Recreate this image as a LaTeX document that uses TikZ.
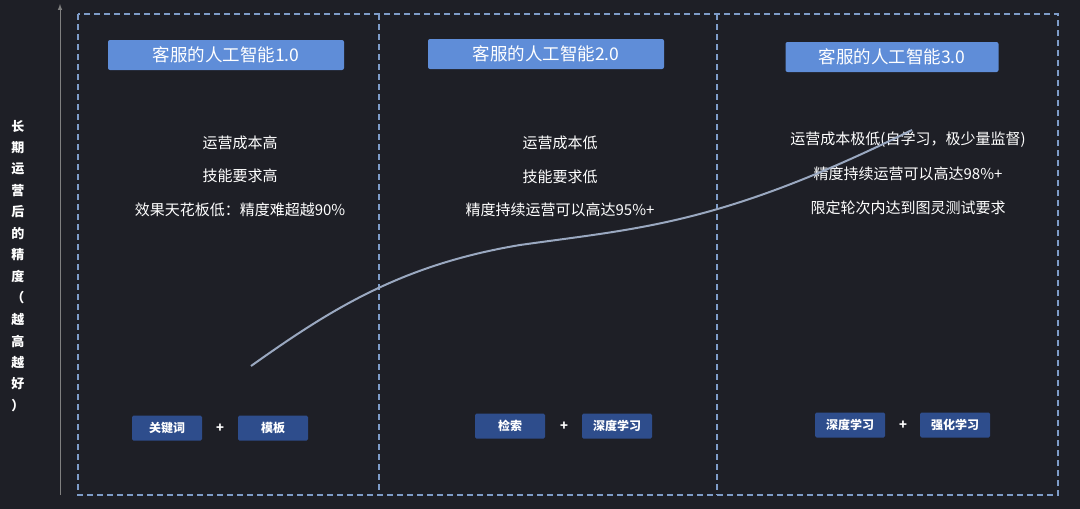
\documentclass[tikz,border=0pt]{standalone}
\usepackage{fontspec}
\setmainfont{Noto Sans CJK SC}
\definecolor{bgdark}{HTML}{1E1F26}
\definecolor{headblue}{HTML}{5F8DD8}
\definecolor{tagblue}{HTML}{2E4D8C}
\definecolor{lineblue}{HTML}{7E9CC8}
\definecolor{curvegray}{HTML}{9AA8C0}
\tikzset{
  headbox/.style={fill=headblue, text=white, rounded corners=2pt, minimum width=236pt, minimum height=30pt, font=\fontsize{17.5}{17.5}\selectfont, inner sep=0pt},
  tagbox/.style={fill=tagblue, text=white, rounded corners=1.5pt, minimum width=70pt, minimum height=25pt, font=\bfseries\fontsize{12}{12}\selectfont, inner sep=0pt},
  bodytext/.style={text=white, font=\fontsize{15}{15}\selectfont},
  plus/.style={text=white, font=\bfseries\fontsize{13}{13}\selectfont}
}
\begin{document}
\begin{tikzpicture}[x=1pt,y=-1pt]
  \fill[bgdark] (0,0) rectangle (1080,509);
  \useasboundingbox (0,0) rectangle (1080,509);
  % frame and dividers
  \draw[lineblue, line width=1.2pt, dash pattern=on 6pt off 4pt] (78,14) rectangle (1058,495);
  \foreach \xd in {379,717}
    \draw[lineblue, line width=1.2pt, dash pattern=on 6pt off 4pt] (\xd,14) -- (\xd,495);
  % axis
  \draw[gray, line width=1pt, -latex] (60,495) -- (60,4);
  \foreach \ch [count=\i from 0] in {长,期,运,营,后,的,精,度,（,越,高,越,好,）}
    \node[text=white, font=\bfseries\fontsize{13}{13}\selectfont] at (18,{126+\i*21.5}) {\ch};
  % headers
  \node[headbox] (h1) at (226,55) {客服的人工智能1.0};
  \node[headbox] (h2) at (546,54) {客服的人工智能2.0};
  \node[headbox, minimum width=213pt] (h3) at (892,57) {客服的人工智能3.0};
  % column texts
  \node[bodytext] (a1) at (240,143) {运营成本高};
  \node[bodytext] (a2) at (240,176) {技能要求高};
  \node[bodytext] (a3) at (240,210) {效果天花板低：精度难超越90\%};
  \node[bodytext] (b1) at (560,143) {运营成本低};
  \node[bodytext] (b2) at (560,177) {技能要求低};
  \node[bodytext] (b3) at (560,210) {精度持续运营可以高达95\%+};
  \node[bodytext] (c1) at (908,140) {运营成本极低(自学习，极少量监督)};
  \node[bodytext] (c2) at (908,174) {精度持续运营可以高达98\%+};
  \node[bodytext] (c3) at (908,208) {限定轮次内达到图灵测试要求};
  % curve
  \draw[curvegray, line width=2pt] (251,366) .. controls (330,310) and (400,265) .. (520,245)
    .. controls (640,228) and (720,225) .. (912,130);
  % tags
  \node[tagbox] (t1) at (167,428) {关键词};
  \node[plus] at (220,428) {+};
  \node[tagbox] (t2) at (273,428) {模板};
  \node[tagbox] (t3) at (510,426) {检索};
  \node[plus] at (564,426) {+};
  \node[tagbox] (t4) at (617,426) {深度学习};
  \node[tagbox] (t5) at (850,425) {深度学习};
  \node[plus] at (903,425) {+};
  \node[tagbox] (t6) at (955,425) {强化学习};
\end{tikzpicture}
\end{document}
